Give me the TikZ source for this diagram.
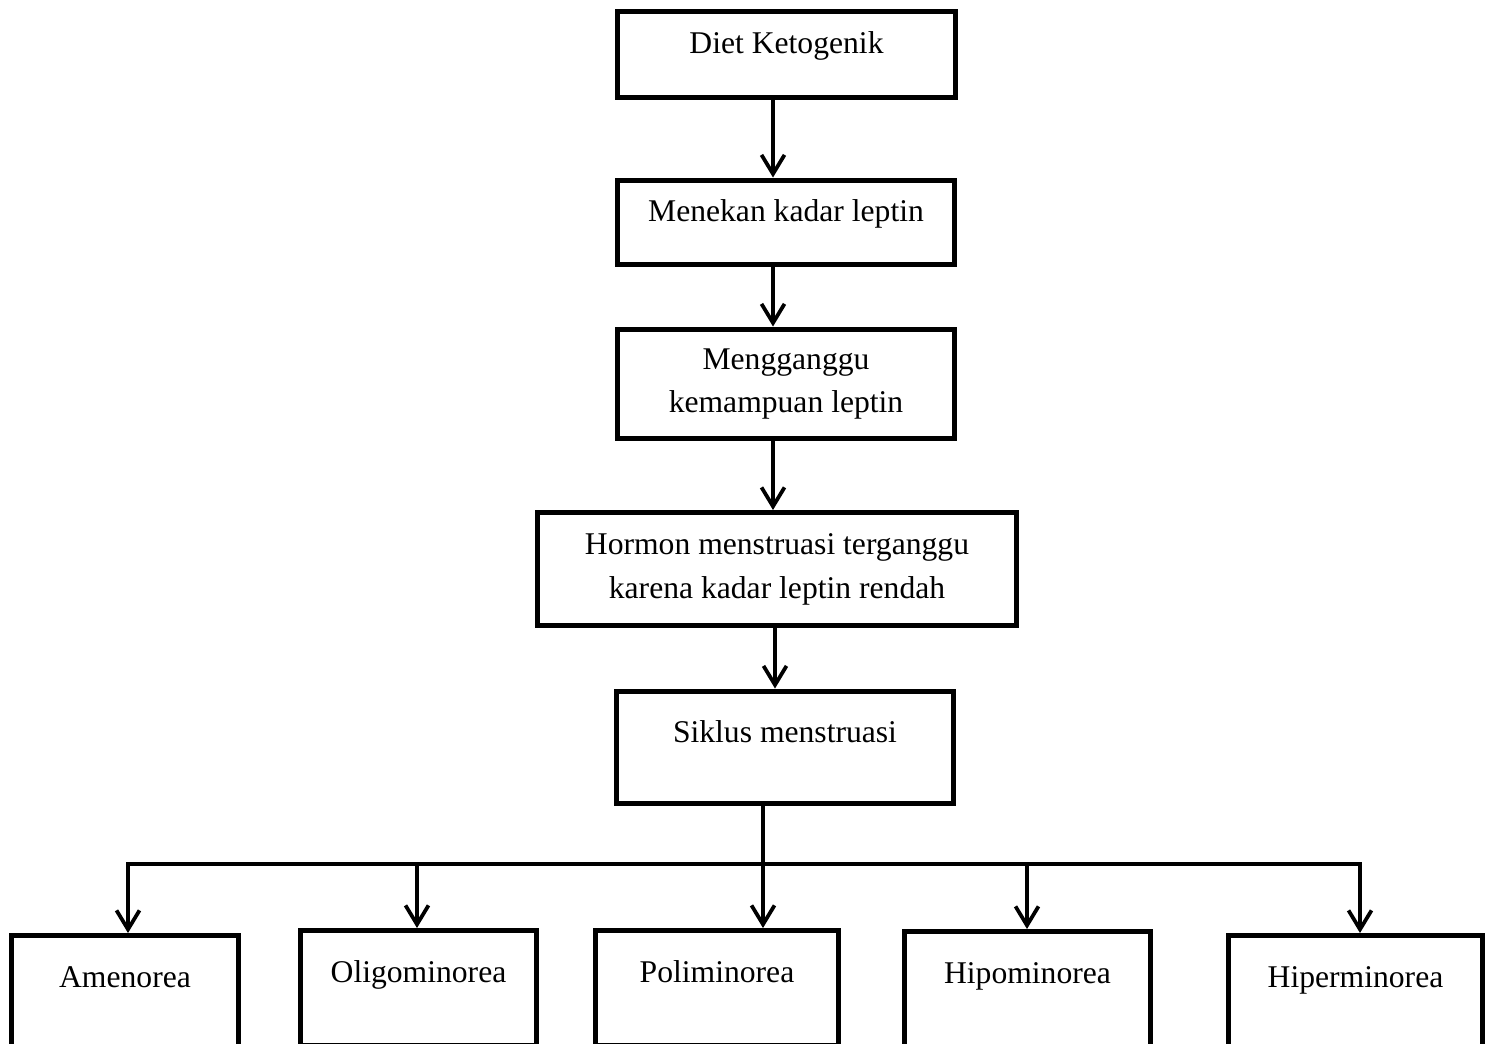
\documentclass[tikz,border=0pt]{standalone}
\usepackage{fontspec}
\setmainfont{Liberation Serif}
\usetikzlibrary{arrows.meta}

\begin{document}
\begin{tikzpicture}[x=0.02cm, y=-0.02cm,
    box/.style={draw, line width=0.1cm, inner sep=0pt, font=\fontsize{18}{25}\selectfont},
    midtext/.style={text height=0.45cm, text depth=0.47cm},
    hightext/.style={text height=0.45cm, text depth=0.67cm},
    arr/.style={line width=0.065cm, -{Straight Barb[length=0.38cm, width=0.46cm, line width=0.075cm]}},
    arrboth/.style={line width=0.065cm, {Straight Barb[length=0.38cm, width=0.46cm, line width=0.075cm]}-{Straight Barb[length=0.38cm, width=0.46cm, line width=0.075cm]}}]
\useasboundingbox (0,0) rectangle (1494,1044);

% main chain
\node[box, midtext, minimum width=6.76cm, minimum height=1.72cm] (diet) at (786.5,54.5) {Diet Ketogenik};
\node[box, midtext, minimum width=6.76cm, minimum height=1.7cm] (menekan) at (786,222.5) {Menekan kadar leptin};
\node[box, align=center, minimum width=6.76cm, minimum height=2.2cm] (ganggu) at (786,384) {Mengganggu\\kemampuan leptin};
\node[box, align=center, minimum width=9.6cm, minimum height=2.26cm] (hormon) at (777,569) {Hormon menstruasi terganggu\\karena kadar leptin rendah};
\node[box, hightext, minimum width=6.76cm, minimum height=2.26cm] (siklus) at (785,747.5) {Siklus menstruasi};

\coordinate (spine) at (773,0);
\coordinate (spineb) at (775,0);
\coordinate (trunk) at (763,0);
\draw[arr] (diet.south -| spine) -- (menekan.north -| spine);
\draw[arr] (menekan.south -| spine) -- (ganggu.north -| spine);
\draw[arr] (ganggu.south -| spine) -- (hormon.north -| spine);
\draw[arr] (hormon.south -| spineb) -- (siklus.north -| spineb);

% kinds of disorder
\node[box, hightext, anchor=north, minimum width=4.54cm, minimum height=2.3cm] (amen) at (125,933) {Amenorea};
\node[box, hightext, anchor=north, minimum width=4.74cm, minimum height=2.3cm] (oligo) at (418.5,928) {Oligominorea};
\node[box, hightext, anchor=north, minimum width=4.87cm, minimum height=2.3cm] (poli) at (717,928) {Poliminorea};
\node[box, hightext, anchor=north, minimum width=4.94cm, minimum height=2.3cm] (hipo) at (1027.5,929) {Hipominorea};
\node[box, hightext, anchor=north, minimum width=5.08cm, minimum height=2.3cm] (hiper) at (1355.5,933) {Hiperminorea};

\coordinate (barL) at (128,864);
\coordinate (barR) at (1360,864);
\draw[arr] (siklus.south -| trunk) -- (poli.north -| trunk);
\draw[arrboth] (amen.north -| barL) |- (barR) -- (hiper.north -| barR);
\foreach \b/\x in {oligo/417, hipo/1027}
    \draw[arr] (\x,864) -- (\b.north -| \x,0);
\end{tikzpicture}
\end{document}
